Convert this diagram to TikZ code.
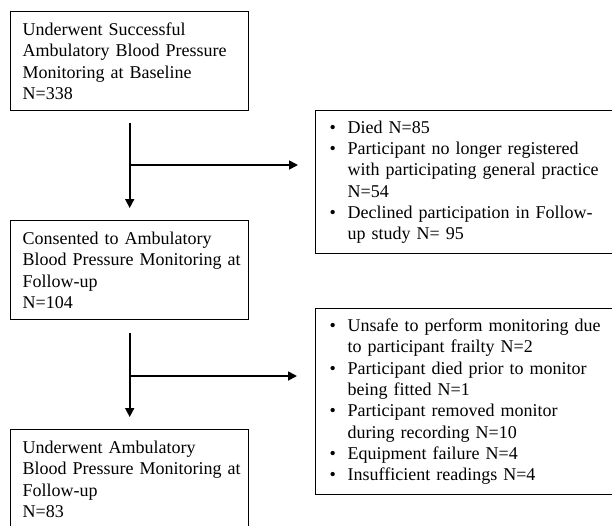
\documentclass[tikz,border=0pt]{standalone}
\usepackage{fontspec}
\setmainfont{Liberation Serif}
\usepackage{tikz}
\usetikzlibrary{arrows.meta, positioning, calc}

\begin{document}
\begin{tikzpicture}[
    x=1pt, y=-1pt,
    font=\fontsize{18}{21.3}\selectfont,
    box/.style={draw, line width=1.4pt, anchor=north west, minimum width=238pt,
                minimum height=99pt, inner xsep=12pt, text width=214pt, align=left},
    exclbox/.style={draw, line width=1.4pt, anchor=north west, minimum width=330pt,
                    inner xsep=14pt, text width=302pt, align=left},
    arrow/.style={-{Triangle[length=9pt, width=9pt]}, line width=1.7pt}
]
    \useasboundingbox (0,0) rectangle (612,525);

    % Main flow
    \node[box] (baseline) at (10,11) {Underwent Successful\\Ambulatory Blood Pressure\\Monitoring at Baseline\\N=338};
    \node[box] (consent) at (10,220) {Consented to Ambulatory\\\mbox{Blood Pressure Monitoring at}\\Follow-up\\N=104};
    \node[box] (followup) at (10,429) {Underwent Ambulatory\\\mbox{Blood Pressure Monitoring at}\\Follow-up\\N=83};

    % Exclusions
    \node[exclbox, minimum height=143pt] (lost) at (315,110) {%
        \makebox[18pt][l]{\textbullet}Died N=85\\
        \makebox[18pt][l]{\textbullet}Participant no longer registered\\
        \hspace*{18pt}with participating general practice\\
        \hspace*{18pt}N=54\\
        \makebox[18pt][l]{\textbullet}Declined participation in Follow-\\
        \hspace*{18pt}up study N= 95};
    \node[exclbox, minimum height=186pt] (failed) at (315,308) {%
        \makebox[18pt][l]{\textbullet}Unsafe to perform monitoring due\\
        \hspace*{18pt}to participant frailty N=2\\
        \makebox[18pt][l]{\textbullet}Participant died prior to monitor\\
        \hspace*{18pt}being fitted N=1\\
        \makebox[18pt][l]{\textbullet}Participant removed monitor\\
        \hspace*{18pt}during recording N=10\\
        \makebox[18pt][l]{\textbullet}Equipment failure N=4\\
        \makebox[18pt][l]{\textbullet}Insufficient readings N=4};

    % Flow arrows
    \draw[arrow, shorten <=12pt, shorten >=12pt] (baseline.south) -- (consent.north);
    \draw[arrow, shorten <=13pt, shorten >=12pt] (consent.south) -- (followup.north);

    % Branches to exclusions
    \coordinate (split1) at (129,165);
    \coordinate (split2) at (129,376);
    \draw[arrow, shorten >=17pt] (split1) -- (split1 -| lost.west);
    \draw[arrow, shorten >=18pt] (split2) -- (split2 -| failed.west);
\end{tikzpicture}
\end{document}
